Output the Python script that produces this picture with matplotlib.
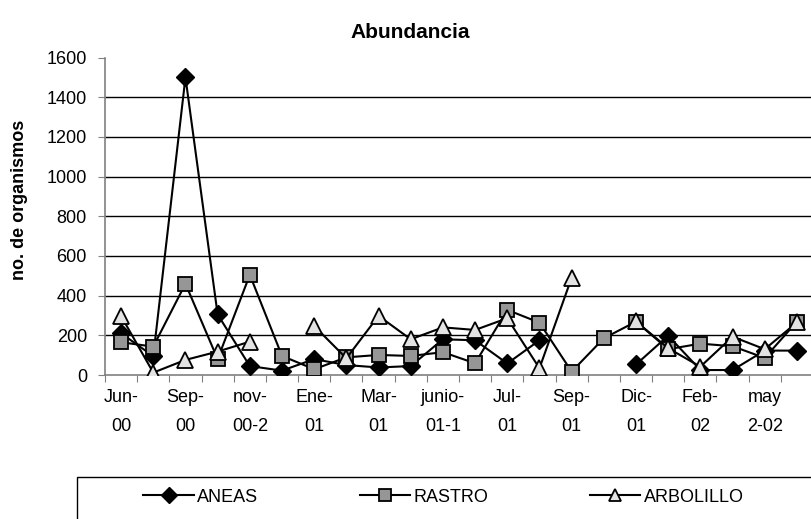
import numpy as np
import matplotlib.pyplot as plt
from matplotlib.patches import Rectangle

plt.rcParams['font.family'] = ['Liberation Sans', 'DejaVu Sans']

nan = np.nan
tick_labels = ['Jun-\n00', 'Sep-\n00', 'nov-\n00-2', 'Ene-\n01', 'Mar-\n01', 'junio-\n01-1',
               'Jul-\n01', 'Sep-\n01', 'Dic-\n01', 'Feb-\n02', 'may\n2-02']
n_cat = 22

aneas = [210, 95, 1500, 305, 45, 22, 80, 50, 38, 45, 180, 175, 58, 175, nan, nan,
         53, 198, 25, 25, 123, 123]
rastro = [165, 143, 460, 80, 505, 96, 29, 89, 101, 96, 115, 59, 328, 264, 17, 185,
          269, 130, 158, 145, 86, 269]
arbolillo = [297, 12, 76, 118, 168, nan, 247, 84, 298, 180, 240, 227, 286, 34, 490, nan,
             270, 135, 42, 193, 130, 265]

x = np.arange(n_cat)

fig = plt.figure(figsize=(8.11, 5.19), dpi=100)
ax = fig.add_axes([105/811, 1-375/519, 708/811, (375-57.5)/519])

ax.plot(x, aneas, color='black', lw=1.5, marker='D', ms=9, mfc='black', mec='black',
        label='ANEAS', zorder=3)
ax.plot(x, rastro, color='black', lw=1.5, marker='s', ms=10, mfc='#969696', mec='black',
        mew=1.3, label='RASTRO', zorder=3)
ax.plot(x, arbolillo, color='black', lw=1.5, marker='^', ms=11, mfc='#e3e3e3', mec='black',
        mew=1.3, label='ARBOLILLO', zorder=3)

ax.set_xlim(-0.5, n_cat - 0.5)
ax.set_ylim(0, 1600)
ax.set_yticks(np.arange(0, 1601, 200))
ax.tick_params(axis='y', labelsize=13, length=5, color='#808080', pad=8)
for v in range(200, 1600, 200):
    ax.axhline(v, color='black', lw=1, zorder=1)

ax.set_xticks(np.arange(-0.5, n_cat, 1))
ax.set_xticklabels([])
ax.tick_params(axis='x', length=5, color='#808080', direction='out')
ax.set_xticks(np.arange(0, n_cat, 2), minor=True)
ax.set_xticklabels(tick_labels, minor=True, fontsize=13, linespacing=1.9)
ax.tick_params(axis='x', which='minor', length=0, pad=10)

for s in ['top', 'right']:
    ax.spines[s].set_visible(False)
for s in ['left', 'bottom']:
    ax.spines[s].set_color('#808080')
    ax.spines[s].set_linewidth(1.2)

ax.set_title('Abundancia', fontsize=15, fontweight='bold', pad=14, x=(410-105)/708)
ax.set_ylabel('no. de organismos', fontsize=13, fontweight='bold')
ax.yaxis.set_label_coords((28-105)/708, (375-200)/317.5)

fig.add_artist(Rectangle((77/811, -0.1), 1.0, 0.1 + 42/519, transform=fig.transFigure,
                         fill=False, edgecolor='black', lw=1.0))
leg = fig.legend(loc='center left', ncol=3, bbox_to_anchor=(136/811, 1-497/519),
                 fontsize=13, frameon=False, handlelength=2.8, handletextpad=0.2,
                 columnspacing=5.6, borderaxespad=0, markerscale=0.85)

fig.savefig('out.png', dpi=100)
